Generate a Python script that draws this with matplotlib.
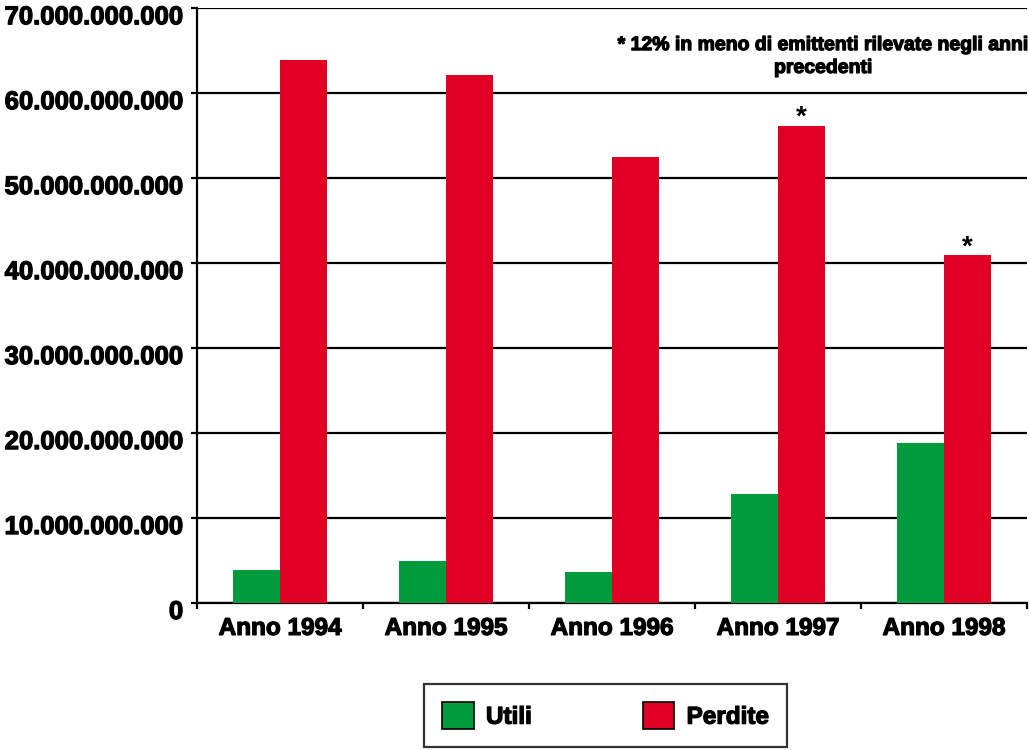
import numpy as np
import matplotlib
matplotlib.use("Agg")
from matplotlib import pyplot as plt
from matplotlib import patheffects
from matplotlib.transforms import ScaledTranslation
from matplotlib.ticker import FuncFormatter, FixedLocator

plt.rcParams['font.family'] = ['Liberation Sans', 'DejaVu Sans']
plt.rcParams['font.weight'] = 'bold'

anni = ["Anno 1994", "Anno 1995", "Anno 1996", "Anno 1997", "Anno 1998"]
utili = [3.9e9, 4.9e9, 3.6e9, 12.8e9, 18.8e9]
perdite = [63.9e9, 62.1e9, 52.5e9, 56.2e9, 40.9e9]
con_nota = [False, False, False, True, True]
nota = "* 12% in meno di emittenti rilevate negli anni\nprecedenti"

verde = "#009b3c"
rosso = "#e00024"
spesso = [patheffects.withStroke(linewidth=0.9, foreground="black")]

fig = plt.figure(figsize=(10.29, 7.5), dpi=100)
ax = fig.add_axes([0.1915, 0.196, 0.8065, 0.793])

x = np.arange(len(anni))
w = 0.283
b1 = ax.bar(x - w / 2, utili, w, color=verde, label="Utili", zorder=3)
b2 = ax.bar(x + w / 2, perdite, w, color=rosso, label="Perdite", zorder=3)

# asterisco sopra le barre con la nota
for rect, flag in zip(b2, con_nota):
    if flag:
        ax.annotate("*", (rect.get_x() + rect.get_width() / 2, rect.get_height()),
                    xytext=(0, -4), textcoords="offset points",
                    ha="center", va="bottom", fontsize=20, fontweight="bold")

ax.set_xlim(-0.5, len(anni) - 0.5)
ax.set_ylim(0, 70e9)
ax.set_yticks(np.arange(0, 70e9 + 1, 10e9))
ax.yaxis.set_major_formatter(FuncFormatter(lambda v, p: f"{int(v):,}".replace(",", ".")))
ax.grid(axis="y", color="black", linewidth=1.6, zorder=1)

ax.set_xticks(x)
ax.set_xticklabels(anni)
ax.xaxis.set_minor_locator(FixedLocator(np.arange(-0.5, len(anni), 1)))
ax.tick_params(axis="x", which="major", length=0, pad=10, labelsize=17.5)
ax.tick_params(axis="x", which="minor", length=4, width=1.6, direction="out")
ax.tick_params(axis="y", length=4, width=1.6, labelsize=18.5, pad=6)

sposta = ScaledTranslation(0, -0.065, fig.dpi_scale_trans)
for lab in ax.get_yticklabels():
    lab.set_transform(lab.get_transform() + sposta)
    lab.set_path_effects(spesso)
for lab in ax.get_xticklabels():
    lab.set_path_effects(spesso)

for s in ["top", "right"]:
    ax.spines[s].set_visible(False)
for s in ["left", "bottom"]:
    ax.spines[s].set_linewidth(1.6)

fig.text(0.80, 0.924, nota, ha="center", va="center", fontsize=14,
         fontweight="bold", linespacing=1.45, path_effects=spesso)

leg = fig.legend(handles=[b1, b2], loc="lower left",
                 bbox_to_anchor=(0.412, 0.004, 0.353, 0.092), mode="expand",
                 ncol=2, fontsize=17.5, frameon=True, fancybox=False,
                 edgecolor="black", handlelength=1.3, handleheight=1.3,
                 handletextpad=0.5, borderaxespad=0, borderpad=0.75)
leg.get_frame().set_linewidth(1.6)
for h in leg.legend_handles:
    h.set_edgecolor("black")
    h.set_linewidth(1.2)
for t in leg.get_texts():
    t.set_path_effects(spesso)

fig.savefig("out.png", dpi=100)
